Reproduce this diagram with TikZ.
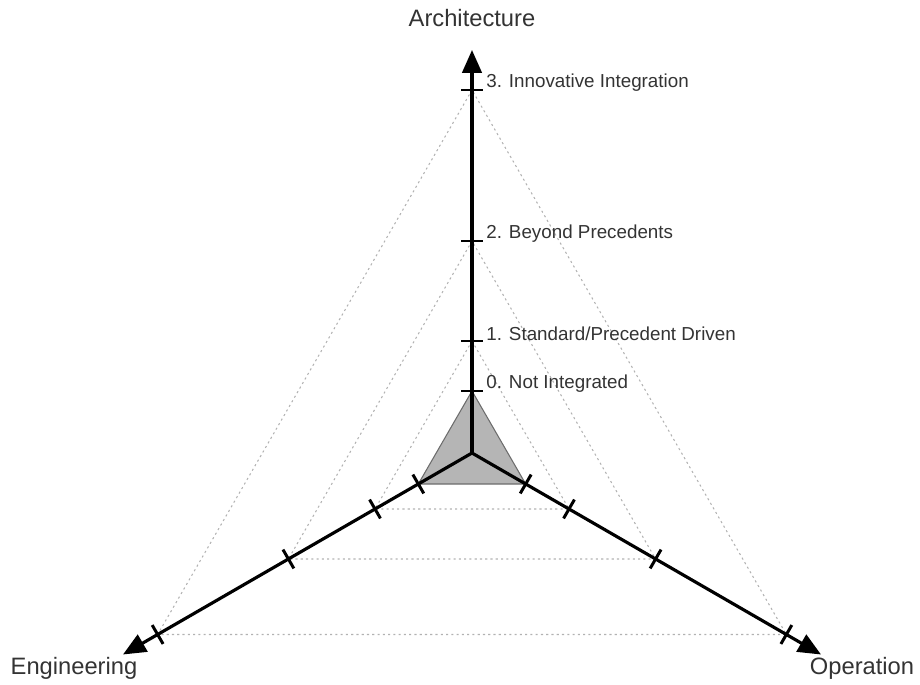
\documentclass[tikz,border=0pt]{standalone}
\usepackage{fontspec}
\setmainfont{Liberation Sans}
\usetikzlibrary{arrows.meta,calc}
\tikzset{
  axisline/.style={line width=1.8pt, -{Triangle[length=13pt,width=11pt]}},
  tickmark/.style={line width=1.7pt},
  gridline/.style={gray!60, line width=0.6pt, dash pattern=on 1.2pt off 1.8pt},
  levelarea/.style={fill=gray!58, draw=gray!85!black, line width=0.6pt},
  levellabel/.style={anchor=west, font=\fontsize{10.7}{12}\selectfont, text=black!80, inner sep=0pt},
  axislabel/.style={font=\fontsize{13.5}{15}\selectfont, text=black!80, inner sep=0pt},
}
\begin{document}
\begin{tikzpicture}[x=0.02cm,y=0.02cm]
\useasboundingbox (0,0) rectangle (920,684);
\coordinate (O) at (472,231);
% level points on the three axes
\foreach \ax/\ang in {A/90,E/210,P/330}{
  \foreach \lv/\r in {0/62,1/112,2/212,3/363}{
    \coordinate (\ax\lv) at ($(O)+(\ang:\r)$);
  }
  \coordinate (\ax tip) at ($(O)+(\ang:403)$);
}
% current level area
\path[levelarea] (A0) -- (E0) -- (P0) -- cycle;
% reference triangles
\foreach \lv in {1,2,3}
  \draw[gridline] (A\lv) -- (E\lv) -- (P\lv) -- cycle;
% axes
\foreach \ax in {A,E,P}
  \draw[axisline] (O) -- (\ax tip);
% tick marks
\foreach \ax in {A,E,P}
  \foreach \lv in {0,1,2,3}
    \draw[tickmark] ($(\ax\lv)!6.2pt!90:(O)$) -- ($(\ax\lv)!6.2pt!-90:(O)$);
% level labels
\node[levellabel] (l0) at ($(A0)+(14,7)$) {0. Not Integrated};
\node[levellabel] (l1) at ($(A1)+(14,7)$) {1. Standard/Precedent Driven};
\node[levellabel] (l2) at ($(A2)+(14,7)$) {2. Beyond Precedents};
\node[levellabel] (l3) at ($(A3)+(14,7)$) {3. Innovative Integration};
% axis titles
\node[axislabel] (arch) at (472,666) {Architecture};
\node[axislabel] (eng) at (74,16) {Engineering};
\node[axislabel] (ope) at (862,16) {Operation};
\end{tikzpicture}
\end{document}
